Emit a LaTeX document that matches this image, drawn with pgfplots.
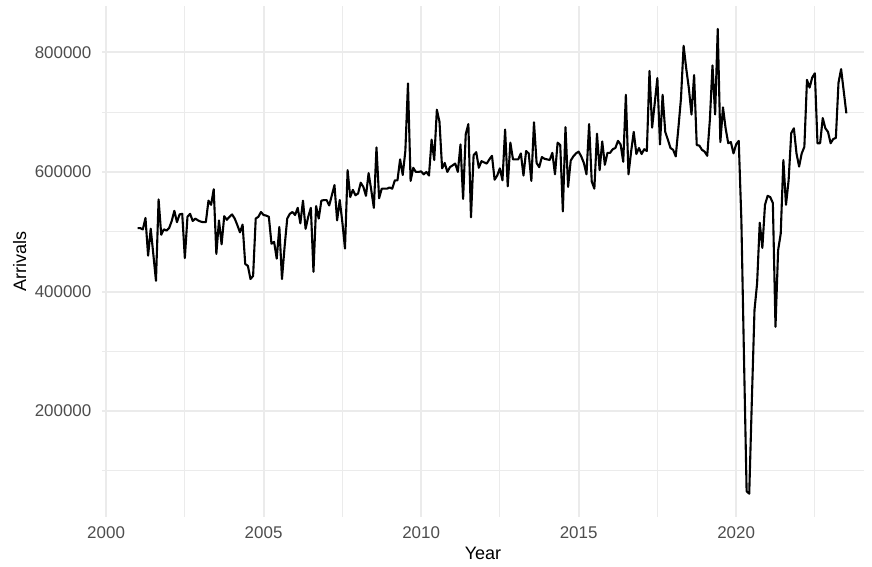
\documentclass[border=0pt]{standalone}
\usepackage{fontspec}
\setmainfont{Liberation Sans}
\usepackage{pgfplots}
\usepackage{pgfplotstable}
\pgfplotsset{compat=1.18}
\definecolor{gridgrey}{HTML}{EBEBEB}
\definecolor{ticktext}{HTML}{4D4D4D}

% monthly arrivals, Jan 2001 onwards
\pgfplotstableread[row sep=\\]{
arrivals\\
506000\\506000\\504000\\523000\\460000\\505000\\462000\\418000\\554000\\495000\\504000\\502000\\
506000\\518000\\535000\\516000\\529000\\530000\\456000\\525000\\530000\\518000\\522000\\519000\\
517000\\516000\\516000\\552000\\545000\\571000\\463000\\519000\\479000\\526000\\520000\\525000\\
529000\\522000\\511000\\499000\\512000\\446000\\443000\\421000\\426000\\522000\\525000\\533000\\
528000\\527000\\525000\\480000\\483000\\455000\\508000\\421000\\475000\\522000\\530000\\533000\\
528000\\540000\\514000\\552000\\505000\\525000\\540000\\433000\\543000\\522000\\552000\\553000\\
553000\\544000\\561000\\578000\\519000\\553000\\516000\\472000\\603000\\558000\\570000\\561000\\
564000\\582000\\575000\\560000\\598000\\570000\\540000\\641000\\556000\\572000\\572000\\572000\\
574000\\572000\\586000\\586000\\621000\\595000\\635000\\748000\\585000\\607000\\600000\\600000\\
601000\\596000\\600000\\594000\\654000\\620000\\704000\\684000\\606000\\615000\\600000\\608000\\
611000\\614000\\600000\\646000\\555000\\663000\\680000\\524000\\628000\\633000\\607000\\618000\\
616000\\614000\\621000\\627000\\587000\\594000\\606000\\586000\\671000\\576000\\649000\\621000\\
621000\\621000\\631000\\594000\\635000\\631000\\585000\\683000\\615000\\608000\\625000\\622000\\
621000\\620000\\632000\\596000\\649000\\645000\\534000\\675000\\575000\\619000\\626000\\631000\\
634000\\626000\\615000\\596000\\680000\\584000\\572000\\664000\\603000\\651000\\612000\\632000\\
632000\\638000\\640000\\652000\\646000\\617000\\729000\\596000\\634000\\667000\\630000\\640000\\
630000\\638000\\635000\\769000\\674000\\715000\\757000\\646000\\729000\\667000\\654000\\640000\\
637000\\626000\\673000\\723000\\811000\\773000\\740000\\696000\\762000\\645000\\644000\\637000\\
634000\\627000\\687000\\778000\\696000\\839000\\650000\\708000\\673000\\648000\\650000\\631000\\
646000\\652000\\520000\\290000\\66000\\62000\\219000\\369000\\414000\\515000\\473000\\545000\\
560000\\558000\\548000\\341000\\469000\\497000\\620000\\545000\\586000\\665000\\673000\\631000\\
609000\\631000\\642000\\754000\\741000\\758000\\765000\\648000\\648000\\690000\\673000\\667000\\
648000\\655000\\657000\\749000\\772000\\735000\\698000\\
}\arrivals

\begin{document}
\begin{tikzpicture}
\begin{axis}[
  scale only axis,
  width=508pt, height=340.87pt,
  xmin=1999.87, xmax=2024.06,
  ymin=23000, ymax=878000,
  axis line style={draw=none},
  major tick length=0pt, minor tick length=0pt,
  scaled ticks=false,
  xtick={2000,2005,2010,2015,2020},
  xticklabels={2000,2005,2010,2015,2020},
  minor xtick={2002.5,2007.5,2012.5,2017.5,2022.5},
  ytick={200000,400000,600000,800000},
  yticklabels={200000,400000,600000,800000},
  minor ytick={100000,300000,500000,700000},
  grid=both,
  major grid style={draw=gridgrey, line width=1.3pt},
  minor grid style={draw=gridgrey, line width=0.65pt},
  /pgf/number format/assume math mode=true,
  tick label style={font=\fontsize{11.3}{13}\selectfont, text=ticktext},
  xticklabel style={anchor=north, inner sep=0pt, yshift=-6.5pt},
  yticklabel style={anchor=east, inner sep=0pt, xshift=-6.9pt},
]
\addplot[black, line width=1.4pt, line join=round]
  table[x expr={2001+\coordindex/12}, y=arrivals] {\arrivals};
\coordinate (bm) at (rel axis cs:0.5,0);
\coordinate (ml) at (rel axis cs:0,0.5);
\coordinate (ll) at (rel axis cs:0,0);
\coordinate (ur) at (rel axis cs:1,1);
\end{axis}
\node[anchor=north, inner sep=0pt, font=\fontsize{12}{14}\selectfont] at ([yshift=-19.8pt]bm) {Year};
\node[rotate=90, anchor=south, inner sep=0pt, font=\fontsize{12}{14}\selectfont] at ([xshift=-50.2pt]ml) {Arrivals};
\path ([shift={(-68pt,-32.67pt)}]ll) rectangle ([shift={(5.33pt,3.8pt)}]ur);
\end{tikzpicture}
\end{document}
